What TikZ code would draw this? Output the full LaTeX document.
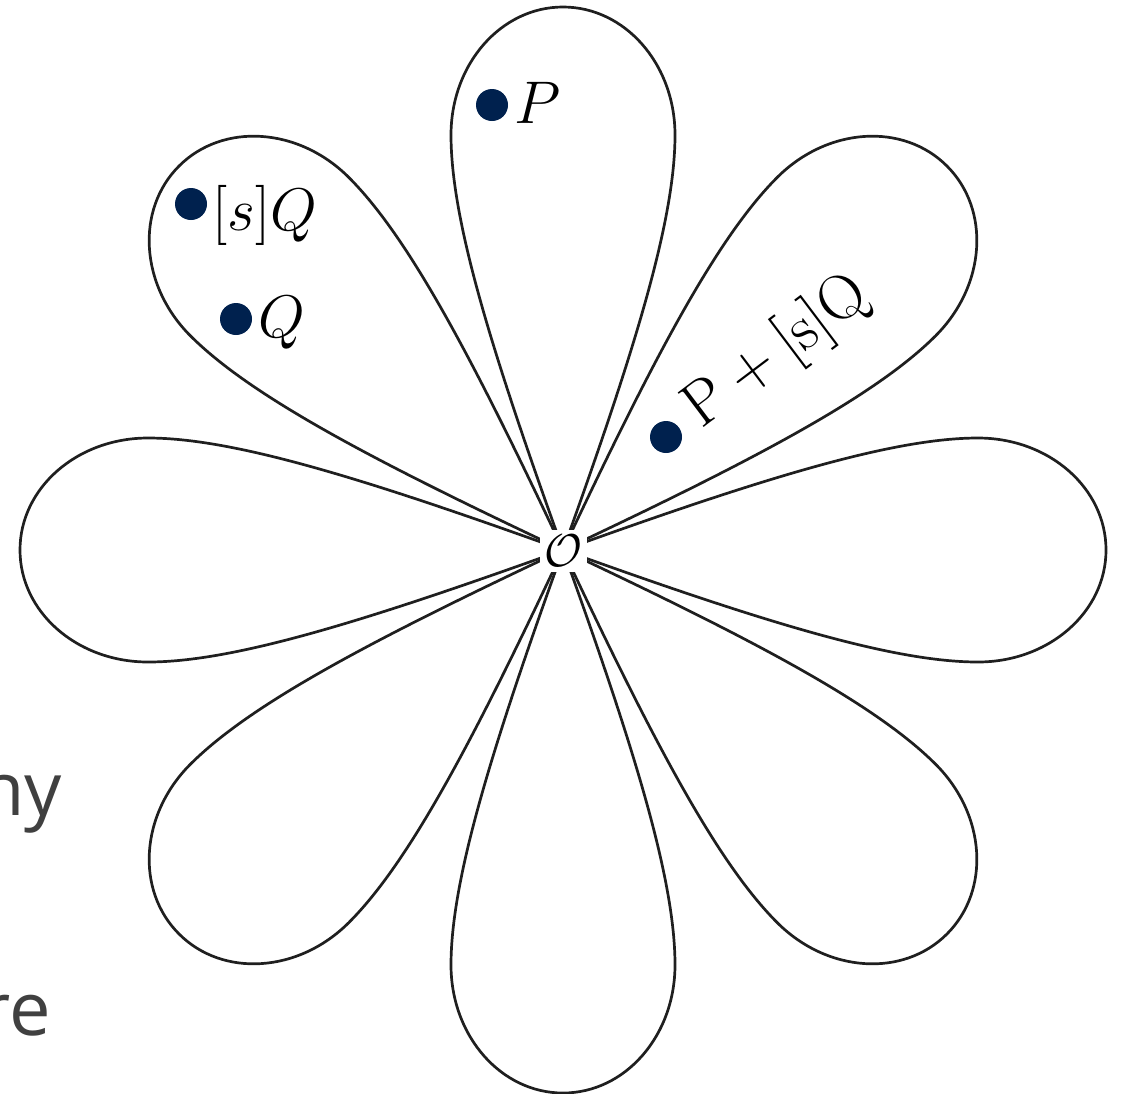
\documentclass[tikz,border=0pt]{standalone}
\usepackage{fontspec}
\newfontfamily\uisans{Open Sans}
\definecolor{dotblue}{RGB}{0,33,78}
\begin{document}
\begin{tikzpicture}[x=1pt,y=-1pt,
  petal/.style={draw=black!88, line width=2.7pt, line join=round},
  dot/.style={circle, fill=dotblue, inner sep=0pt, minimum size=32pt},
  lab/.style={anchor=base west, inner sep=0pt, font=\Huge, scale=2.42},
  bgtext/.style={anchor=base east, inner sep=0pt, font=\uisans\fontsize{74}{80}\selectfont, text=black!75}]
\useasboundingbox (0,0) rectangle (1123,1093);
\begin{scope}
\clip (0,0) rectangle (1123,1093);
\node[bgtext] (ny) at (62,815) {ny};
\node[bgtext] (re) at (51,1035) {re};
\end{scope}
\foreach \a in {0,45,...,315}{
  \draw[petal, shift={(563,550)}, rotate=\a] (0,0) .. controls (200,72) and (330,112) .. (415,112)
     .. controls (486,112) and (543,62) .. (543,0)
     .. controls (543,-62) and (486,-112) .. (415,-112)
     .. controls (330,-112) and (200,-72) .. cycle;
}
\node[fill=white, inner sep=0pt, minimum width=47pt, minimum height=42pt] (O) at (563,551) {};
\node[font=\Huge, scale=1.85, inner sep=0pt] (Olab) at (563,551) {$\mathcal{O}$};
\node[dot] (p) at (492,105) {};
\node[lab] (plab) at (514,123) {$P$};
\node[dot] (sq) at (191,204) {};
\node[lab] (sqlab) at (212,230) {$[s]Q$};
\node[dot] (q) at (236,319) {};
\node[lab] (qlab) at (258,337) {$Q$};
\node[dot] (psq) at (666,437) {};
\node[lab, rotate=37, scale=1.05] (psqlab) at (701,430) {$\mathrm{P}+[\mathrm{s}]\mathrm{Q}$};
\end{tikzpicture}
\end{document}
